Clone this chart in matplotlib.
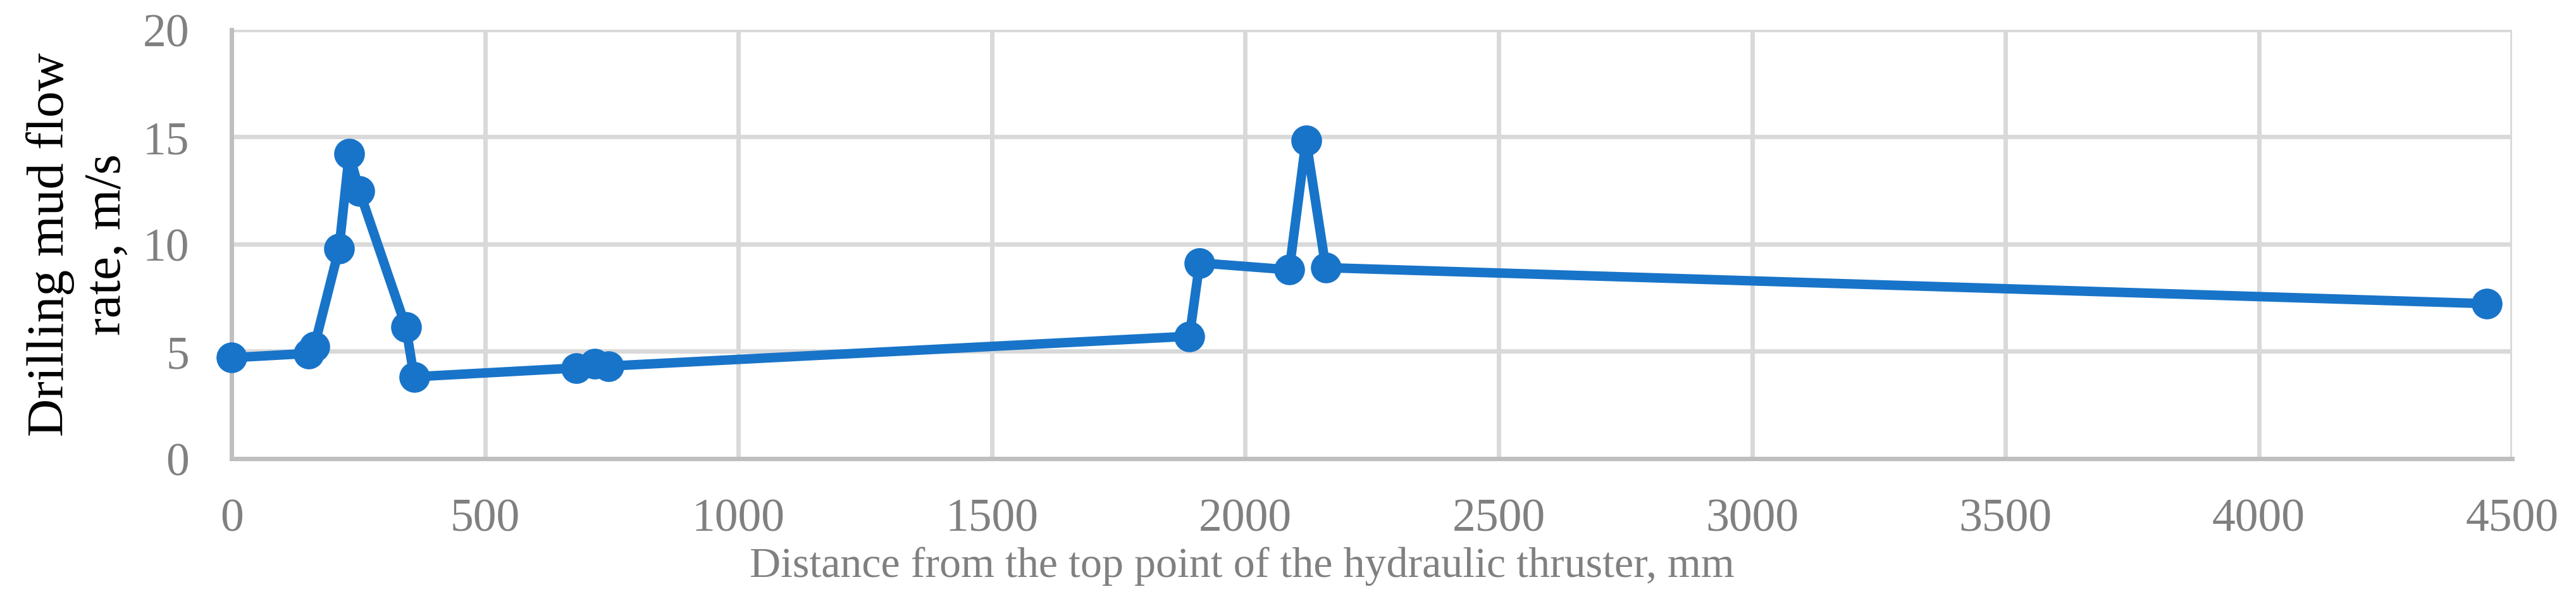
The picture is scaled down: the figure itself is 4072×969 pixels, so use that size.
import matplotlib.pyplot as plt

# distance from top point of thruster (mm) vs drilling mud flow rate (m/s)
distance_mm = [0, 152, 163, 212, 232, 252, 344, 360, 680, 716, 744,
               1890, 1910, 2087, 2120, 2159, 4450]
flow_rate = [4.70, 4.90, 5.21, 9.79, 14.21, 12.48, 6.12, 3.81, 4.22, 4.41, 4.31,
             5.70, 9.12, 8.80, 14.84, 8.90, 7.22]

x_ticks = [0, 500, 1000, 1500, 2000, 2500, 3000, 3500, 4000, 4500]
y_ticks = [0, 5, 10, 15, 20]

plt.rcParams['font.family'] = ['Liberation Serif', 'DejaVu Serif']

fig, ax = plt.subplots(figsize=(40.73, 9.70), dpi=100)
fig.subplots_adjust(left=0.0899, right=0.975, top=0.9507, bottom=0.2518)

ax.plot(distance_mm, flow_rate, '-o', color='#1874C8', linewidth=10.8,
        markersize=35, markeredgewidth=0, clip_on=False, zorder=3)

ax.set_xlim(0, 4500)
ax.set_ylim(0, 20)
ax.set_xticks(x_ticks)
ax.set_yticks(y_ticks)
ax.grid(True, color='#D9D9D9', linewidth=5)
ax.set_axisbelow(True)

for side in ['top', 'right']:
    ax.spines[side].set_visible(False)
for side in ['left', 'bottom']:
    ax.spines[side].set_color('#BFBFBF')
    ax.spines[side].set_linewidth(5)

ax.tick_params(length=0, labelsize=53, labelcolor='#808080')
ax.tick_params(axis='x', pad=45)
ax.tick_params(axis='y', pad=48)

ax.set_xlabel('Distance from the top point of the hydraulic thruster, mm',
              fontsize=49, color='#808080')
ax.xaxis.set_label_coords(0.443, -0.205)
ax.set_ylabel('Drilling mud flow\nrate, m/s', fontsize=60, color='black',
              ha='center', va='center', linespacing=1.25)
ax.yaxis.set_label_coords(-0.067, 0.5)

fig.savefig('out.png', dpi=100)
